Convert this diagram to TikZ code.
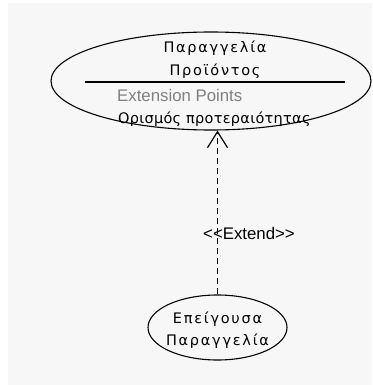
\documentclass[tikz,border=0pt]{standalone}
\usepackage{fontspec}
\setmainfont{DejaVu Sans}
\newfontfamily\labelfont{Liberation Sans}
\newfontfamily\titlefont[LetterSpace=12]{DejaVu Sans}
\newfontfamily\pointfont[LetterSpace=2]{DejaVu Sans}
\usetikzlibrary{arrows.meta,shapes.geometric}

\definecolor{canvas}{RGB}{247,247,247}
\definecolor{pointgray}{RGB}{128,128,128}

\tikzset{
  usecase/.style={draw=black, ellipse, line width=1.1pt, inner sep=0pt},
  greektext/.style={anchor=base, inner sep=0pt, font=\titlefont\fontsize{14.5}{16}\selectfont},
  pointtext/.style={anchor=base west, inner sep=0pt, font=\pointfont\fontsize{14.5}{16}\selectfont},
  uitext/.style={anchor=base west, inner sep=0pt, font=\labelfont\fontsize{16.8}{18}\selectfont},
  extendline/.style={draw=black, line width=1pt, dash pattern=on 6pt off 4pt,
    -{Straight Barb[length=16pt,width=20pt,line width=1.2pt]}}
}

\begin{document}
\begin{tikzpicture}[x=1pt,y=-1pt]
  \useasboundingbox (0,0) rectangle (372,385);
  \fill[white] (0,0) rectangle (372,385);
  \fill[canvas] (8,3) rectangle (372,385);

  % base use case with its extension point compartment
  \node[usecase, minimum width=320pt, minimum height=98pt] (order) at (211,81) {};
  \node[greektext] (title1) at (215,53) {Παραγγελία};
  \node[greektext] (title2) at (215,76) {Προϊόντος};
  \coordinate (sepL) at (85,82);
  \coordinate (sepR) at (345,82);
  \draw[line width=1.1pt] (sepL) -- (sepR);
  \node[uitext, text=pointgray] (extpts) at (117,102) {Extension Points};
  \node[pointtext] (priority) at (118,124) {Ορισμός προτεραιότητας};

  % extending use case
  \node[usecase, minimum width=139pt, minimum height=65pt] (urgent) at (217.5,327.5) {};
  \node[greektext] (urg1) at (217.5,323) {Επείγουσα};
  \node[greektext] (urg2) at (217.5,345) {Παραγγελία};

  % extend relationship
  \draw[extendline] (urgent.north) -- (urgent.north |- order.south);
  \node[uitext] (extlabel) at (203,239) {<<Extend>>};
\end{tikzpicture}
\end{document}
